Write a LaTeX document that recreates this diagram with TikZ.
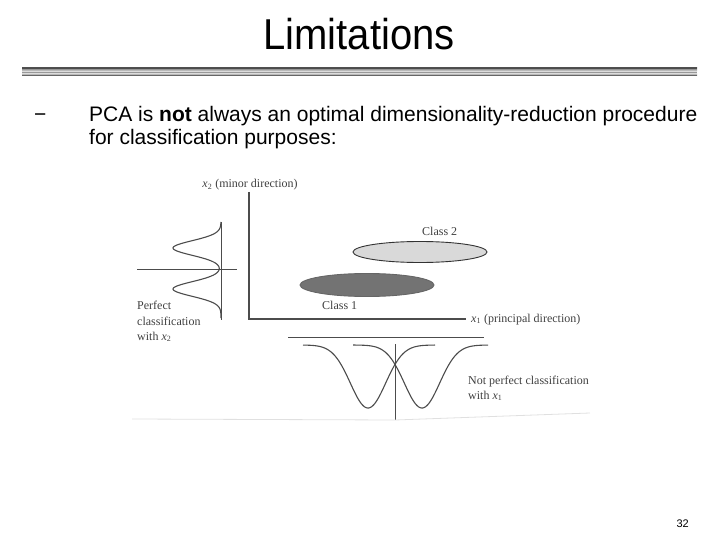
\documentclass[tikz,border=0pt]{standalone}
\usepackage{fontspec}
\setmainfont{Liberation Sans}
\newfontfamily\figfont{Liberation Serif}
\begin{document}
\begin{tikzpicture}[x=1pt,y=-1pt,
  figtxt/.style={font=\figfont\fontsize{12}{14}\selectfont, text=black!75, inner sep=0pt, anchor=base west},
  figline/.style={draw=black!70, line width=1.1pt},
  bodytxt/.style={font=\fontsize{21}{24}\selectfont, inner sep=0pt, anchor=base west}]
\useasboundingbox (0,0) rectangle (720,540);
% title
\node[font=\fontsize{40}{42}\selectfont, inner sep=0pt, anchor=base] (title) at (359,50) {\scalebox{1}[1.08]{Limitations}};
% double rule
\shade[top color=black!55, bottom color=black!55, middle color=white] (22,68) rectangle (697,76);
\draw[black!70, line width=0.8pt] (22,68.4) -- (697,68.4);
\draw[black!60, line width=0.8pt] (22,75.6) -- (697,75.6);
\draw[black!40, line width=0.6pt] (22,72) -- (697,72);
% body text
\node[bodytxt] (dash) at (34,122) {\char"2212};
\node[bodytxt] (line1) at (89,122) {PCA is \textbf{not} always an optimal dimensionality-reduction procedure};
\node[bodytxt] (line2) at (89,145) {for classification purposes:};
% main axes
\coordinate (ytop) at (249,192);
\coordinate (orig) at (249,319);
\coordinate (xend) at (466,319);
\draw[figline] (ytop) -- (orig) -- (xend);
\node[figtxt, anchor=base] (ylab) at (250,188) {\textit{x}\textsubscript{2} (minor direction)};
\node[figtxt] (xlab) at (471,322) {\textit{x}\textsubscript{1} (principal direction)};
% ellipses
\draw[draw=black!80, fill=black!15, line width=0.9pt] (420,252) ellipse (67 and 10.5) node (c2) {};
\draw[draw=black!60, fill=black!55, line width=0.9pt] (367,285) ellipse (67 and 11.5) node (c1) {};
\node[figtxt] (c2lab) at (422,236) {Class 2};
\node[figtxt] (c1lab) at (322,309) {Class 1};
% left projection
\coordinate (lh1) at (137,269);
\coordinate (lh2) at (237,269);
\coordinate (lv1) at (221,222);
\coordinate (lv2) at (221,320);
\draw[figline, line width=0.9pt] (lh1) -- (lh2);
\draw[figline, line width=0.9pt] (lv1) -- (lv2);
\draw[figline] plot[domain=222:318, samples=160, smooth, variable=\t]
  ({221-48*(exp(-((\t-248)^2)/105)+exp(-((\t-289)^2)/105))}, \t);
\node[figtxt] (perf1) at (137,309) {Perfect};
\node[figtxt] (perf2) at (137,325) {classification};
\node[figtxt] (perf3) at (137,340) {with \textit{x}\textsubscript{2}};
% bottom projection
\coordinate (bh1) at (288,337);
\coordinate (bh2) at (484,337);
\coordinate (bv1) at (395,344);
\coordinate (bv2) at (395,420);
\draw[figline, line width=0.9pt] (bh1) -- (bh2);
\draw[figline, line width=0.9pt] (bv1) -- (bv2);
\draw[figline] plot[domain=303:435, samples=160, smooth, variable=\t]
  (\t, {345+63*exp(-((\t-368)^2)/620)});
\draw[figline] plot[domain=353:488, samples=160, smooth, variable=\t]
  (\t, {345+63*exp(-((\t-422)^2)/620)});
\node[figtxt] (np1) at (468,384) {Not perfect classification};
\node[figtxt] (np2) at (468,399) {with \textit{x}\textsubscript{1}};
% faint scan edge
\coordinate (s1) at (132,419);
\coordinate (s2) at (395,420);
\coordinate (s3) at (590,413);
\draw[black!12, line width=0.8pt] (s1) -- (s2) -- (s3);
% page number
\node[font=\fontsize{11}{13}\selectfont, inner sep=0pt, anchor=base east] (pg) at (689,527) {32};
\end{tikzpicture}
\end{document}
